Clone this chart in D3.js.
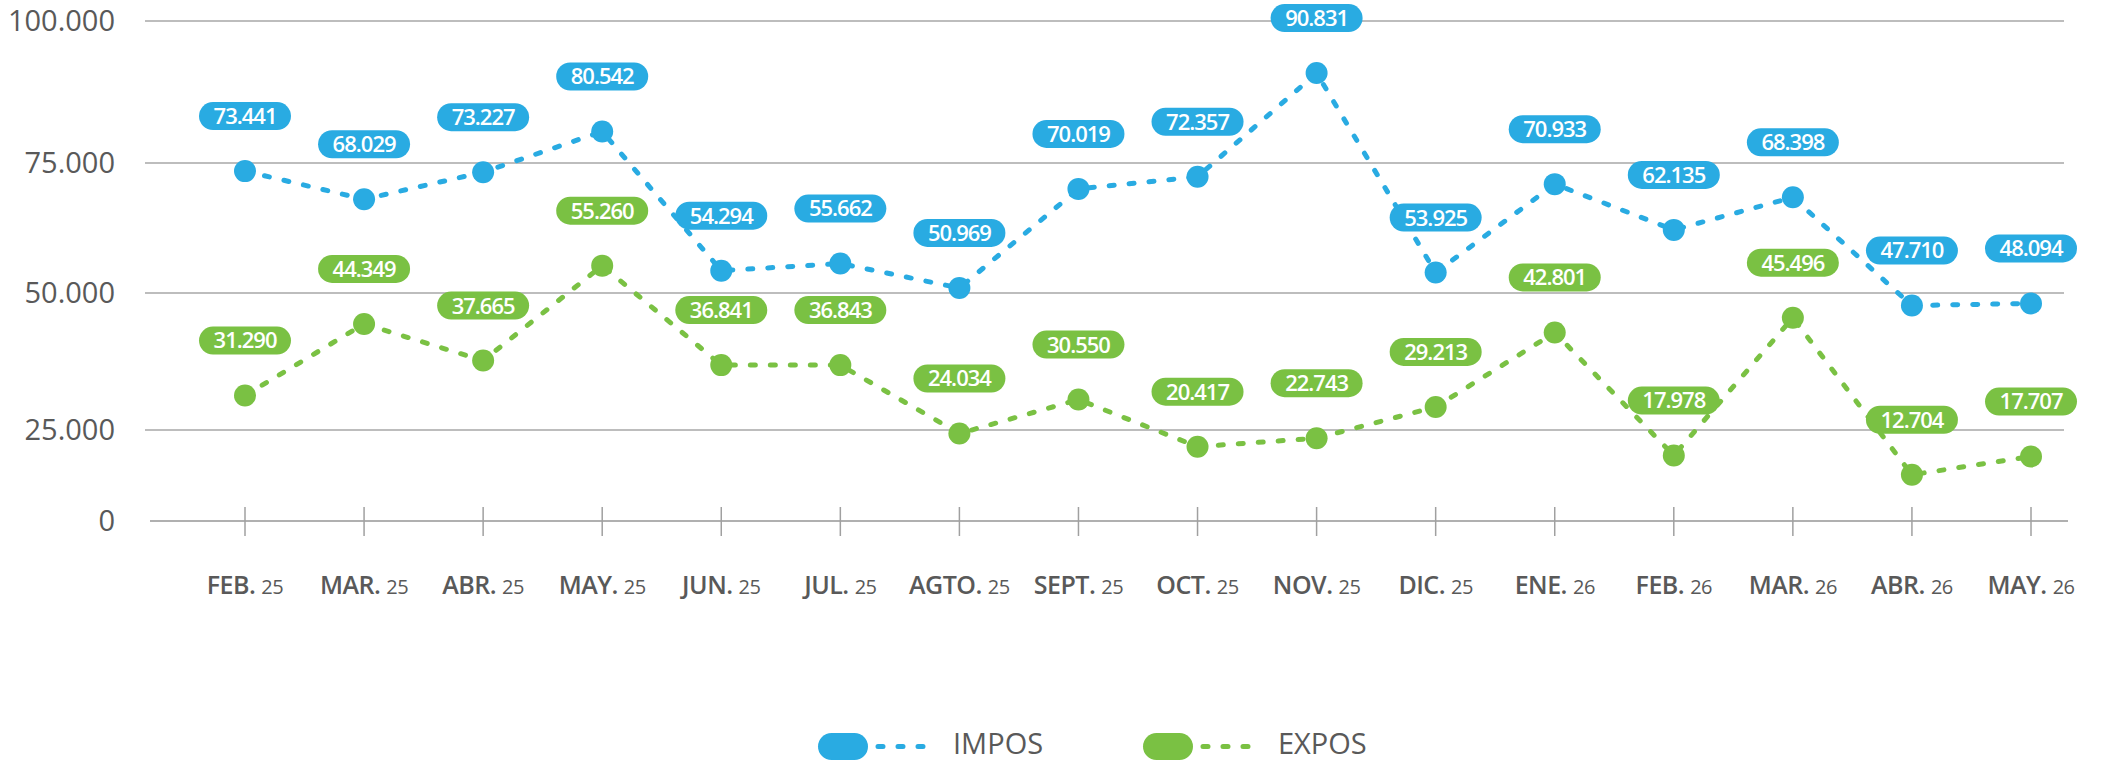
<!DOCTYPE html>
<html>
<head>
<meta charset="utf-8">
<script src="https://cdn.jsdelivr.net/npm/d3@7/dist/d3.min.js"></script>
<style>
  body { margin: 0; background: #fff; }
  text { font-family: "Open Sans", "Noto Sans", sans-serif; }
</style>
</head>
<body>
<svg id="chart" width="2112" height="762"></svg>
<script>
var months = ["FEB.", "MAR.", "ABR.", "MAY.", "JUN.", "JUL.", "AGTO.", "SEPT.", "OCT.", "NOV.", "DIC.", "ENE.", "FEB.", "MAR.", "ABR.", "MAY."]
var years = ["25", "25", "25", "25", "25", "25", "25", "25", "25", "25", "25", "26", "26", "26", "26", "26"]
var impos = [73441, 68029, 73227, 80542, 54294, 55662, 50969, 70019, 72357, 90831, 53925, 70933, 62135, 68398, 47710, 48094]
var expos = [31290, 44349, 37665, 55260, 36841, 36843, 24034, 30550, 20417, 22743, 29213, 42801, 17978, 45496, 12704, 17707]
var yTicks = [0, 25000, 50000, 75000, 100000]

var BLUE = "#29abe2"
var GREEN = "#7ac143"
var GREY_TEXT = "#595959"

var svg = d3.select("#chart")

// point index as key, since month names repeat
var keys = months.map(function(m, i) { return i })

var x = d3.scalePoint()
    .domain(keys)
    .range([245, 2031])

// the original axis is not evenly spaced: 0-25.000 is squeezed
var y = d3.scaleLinear()
    .domain(yTicks)
    .range([521, 430, 293, 163, 21])

var fmt = d3.formatLocale({decimal: ",", thousands: ".", grouping: [3], currency: ["", ""]}).format(",d")

// gridlines
svg.append("g").selectAll("line")
    .data(yTicks.filter(function(d) { return d > 0 }))
  .enter().append("line")
    .attr("x1", 145)
    .attr("x2", 2064)
    .attr("y1", function(d) { return y(d) })
    .attr("y2", function(d) { return y(d) })
    .attr("stroke", "#bdbdbd")
    .attr("stroke-width", 2)

// baseline + ticks
svg.append("line")
    .attr("x1", 150).attr("x2", 2068)
    .attr("y1", y(0)).attr("y2", y(0))
    .attr("stroke", "#b0b0b0")
    .attr("stroke-width", 2)

svg.append("g").selectAll("line")
    .data(keys)
  .enter().append("line")
    .attr("x1", function(d) { return x(d) })
    .attr("x2", function(d) { return x(d) })
    .attr("y1", y(0) - 14)
    .attr("y2", y(0) + 15)
    .attr("stroke", "#a0a0a0")
    .attr("stroke-width", 1.5)

// y labels
svg.append("g").selectAll("text")
    .data(yTicks)
  .enter().append("text")
    .attr("x", 115)
    .attr("y", function(d) { return y(d) })
    .attr("dy", "0.36em")
    .attr("text-anchor", "end")
    .attr("font-size", "29px")
    .attr("fill", GREY_TEXT)
    .text(function(d) { return d == 0 ? "0" : fmt(d) })

// x labels: month + smaller year
var xl = svg.append("g").selectAll("text")
    .data(keys)
  .enter().append("text")
    .attr("x", function(d) { return x(d) })
    .attr("y", 594)
    .attr("text-anchor", "middle")
    .attr("fill", GREY_TEXT)
    .attr("letter-spacing", "-0.5px")
xl.append("tspan")
    .attr("font-size", "25px")
    .attr("font-weight", 600)
    .text(function(d) { return months[d] + " " })
xl.append("tspan")
    .attr("font-size", "20px")
    .text(function(d) { return years[d] })

var series = [
  {name: "IMPOS", values: impos, color: BLUE},
  {name: "EXPOS", values: expos, color: GREEN}
]

var line = d3.line()
    .x(function(d, i) { return x(i) })
    .y(function(d) { return y(d) })

series.forEach(function(s) {
  svg.append("path")
      .datum(s.values)
      .attr("d", line)
      .attr("fill", "none")
      .attr("stroke", s.color)
      .attr("stroke-width", 5)
      .attr("stroke-linecap", "round")
      .attr("stroke-dasharray", "5 15")

  svg.append("g").selectAll("circle")
      .data(s.values)
    .enter().append("circle")
      .attr("cx", function(d, i) { return x(i) })
      .attr("cy", function(d) { return y(d) })
      .attr("r", 11)
      .attr("fill", s.color)
})

// value pills
series.forEach(function(s) {
  var g = svg.append("g").selectAll("g")
      .data(s.values)
    .enter().append("g")
      .attr("transform", function(d, i) { return "translate(" + x(i) + "," + (y(d) - 55) + ")" })
  g.append("rect")
      .attr("x", -46).attr("y", -14)
      .attr("width", 92).attr("height", 28)
      .attr("rx", 14)
      .attr("fill", s.color)
  g.append("text")
      .attr("dy", "0.36em")
      .attr("text-anchor", "middle")
      .attr("font-size", "22px")
      .attr("font-weight", 600)
      .attr("letter-spacing", "-1px")
      .attr("fill", "white")
      .text(function(d) { return fmt(d) })
})

// legend
var legend = svg.append("g").selectAll("g")
    .data(series)
  .enter().append("g")
    .attr("transform", function(d, i) { return "translate(" + (818 + i * 325) + ",733)" })
legend.append("rect")
    .attr("width", 50).attr("height", 27)
    .attr("rx", 13.5)
    .attr("fill", function(d) { return d.color })
legend.append("line")
    .attr("x1", 60).attr("x2", 117)
    .attr("y1", 13.5).attr("y2", 13.5)
    .attr("stroke", function(d) { return d.color })
    .attr("stroke-width", 5)
    .attr("stroke-linecap", "round")
    .attr("stroke-dasharray", "5 15")
legend.append("text")
    .attr("x", 135)
    .attr("y", 21)
    .attr("font-size", "29px")
    .attr("fill", GREY_TEXT)
    .text(function(d) { return d.name })
</script>
</body>
</html>
